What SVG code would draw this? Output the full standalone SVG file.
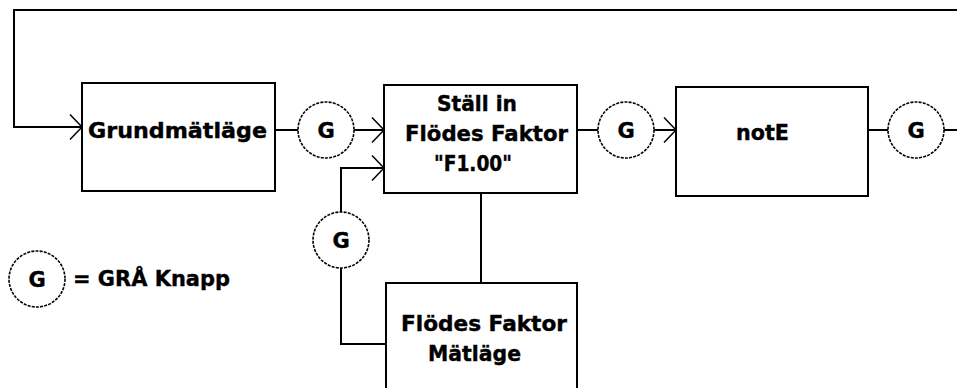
<svg xmlns="http://www.w3.org/2000/svg" width="957" height="388" viewBox="0 0 957 388">
<style>
.box{fill:#fff;stroke:#000;stroke-width:2}
.ln{fill:none;stroke:#000;stroke-width:2}
.btn{fill:#fff;stroke:#000;stroke-width:1.6;stroke-dasharray:3 1.2}
.t{font-family:"DejaVu Sans",sans-serif;font-weight:bold;font-size:22px;fill:#000;stroke:#000;stroke-width:0.4}
.g{font-family:"DejaVu Sans",sans-serif;font-weight:bold;font-size:21px;fill:#000;stroke:#000;stroke-width:0.4;text-anchor:middle}
</style>
<defs>
<marker id="arr" markerUnits="userSpaceOnUse" markerWidth="16" markerHeight="28" refX="14" refY="14" orient="auto" viewBox="0 0 16 28">
<path d="M2 1.5 L14 14 L2 26.5" fill="none" stroke="#000" stroke-width="1.5"/>
</marker>
</defs>
<rect width="957" height="388" fill="#fff"/>
<g id="connectors">
<path class="ln" d="M957 10 H14 V127 H82" marker-end="url(#arr)"/>
<path class="ln" d="M275 130 H298"/>
<path class="ln" d="M354 130 H384" marker-end="url(#arr)"/>
<path class="ln" d="M577 130 H598"/>
<path class="ln" d="M654 130 H676" marker-end="url(#arr)"/>
<path class="ln" d="M868 130 H888"/>
<path class="ln" d="M944 130 H957"/>
<path class="ln" d="M341 212 V168 H384" marker-end="url(#arr)"/>
<path class="ln" d="M386 344 H341 V268"/>
<path class="ln" d="M481 193 V283"/>
</g>
<g id="grundmatlage">
<rect class="box" x="82" y="83" width="193" height="108"/>
<text class="t" x="88" y="138" textLength="179" lengthAdjust="spacingAndGlyphs">Grundmätläge</text>
</g>
<g id="stall-in">
<rect class="box" x="384" y="85" width="193" height="108"/>
<text class="t" x="437" y="111" textLength="80" lengthAdjust="spacingAndGlyphs">Ställ in</text>
<text class="t" x="405" y="141" textLength="163" lengthAdjust="spacingAndGlyphs">Flödes Faktor</text>
<text class="t" x="434" y="171" textLength="78" lengthAdjust="spacingAndGlyphs">"F1.00"</text>
</g>
<g id="note">
<rect class="box" x="676" y="87" width="192" height="109"/>
<text class="t" x="736" y="140" textLength="53" lengthAdjust="spacingAndGlyphs">notE</text>
</g>
<g id="flodes-matlage">
<rect class="box" x="386" y="283" width="191" height="120"/>
<text class="t" x="401" y="331" textLength="166" lengthAdjust="spacingAndGlyphs">Flödes Faktor</text>
<text class="t" x="428" y="361" textLength="93" lengthAdjust="spacingAndGlyphs">Mätläge</text>
</g>
<g id="g1">
<circle class="btn" cx="326" cy="130" r="28"/>
<text class="g" x="326" y="138">G</text>
</g>
<g id="g2">
<circle class="btn" cx="626" cy="130" r="28"/>
<text class="g" x="626" y="138">G</text>
</g>
<g id="g3">
<circle class="btn" cx="916" cy="130" r="28"/>
<text class="g" x="916" y="138">G</text>
</g>
<g id="g4">
<circle class="btn" cx="341" cy="240" r="28"/>
<text class="g" x="341" y="248">G</text>
</g>
<g id="legend">
<circle class="btn" cx="37" cy="279" r="28"/>
<text class="g" x="37" y="287">G</text>
<text class="t" x="73" y="286" textLength="157" lengthAdjust="spacingAndGlyphs">= GRÅ Knapp</text>
</g>
</svg>
